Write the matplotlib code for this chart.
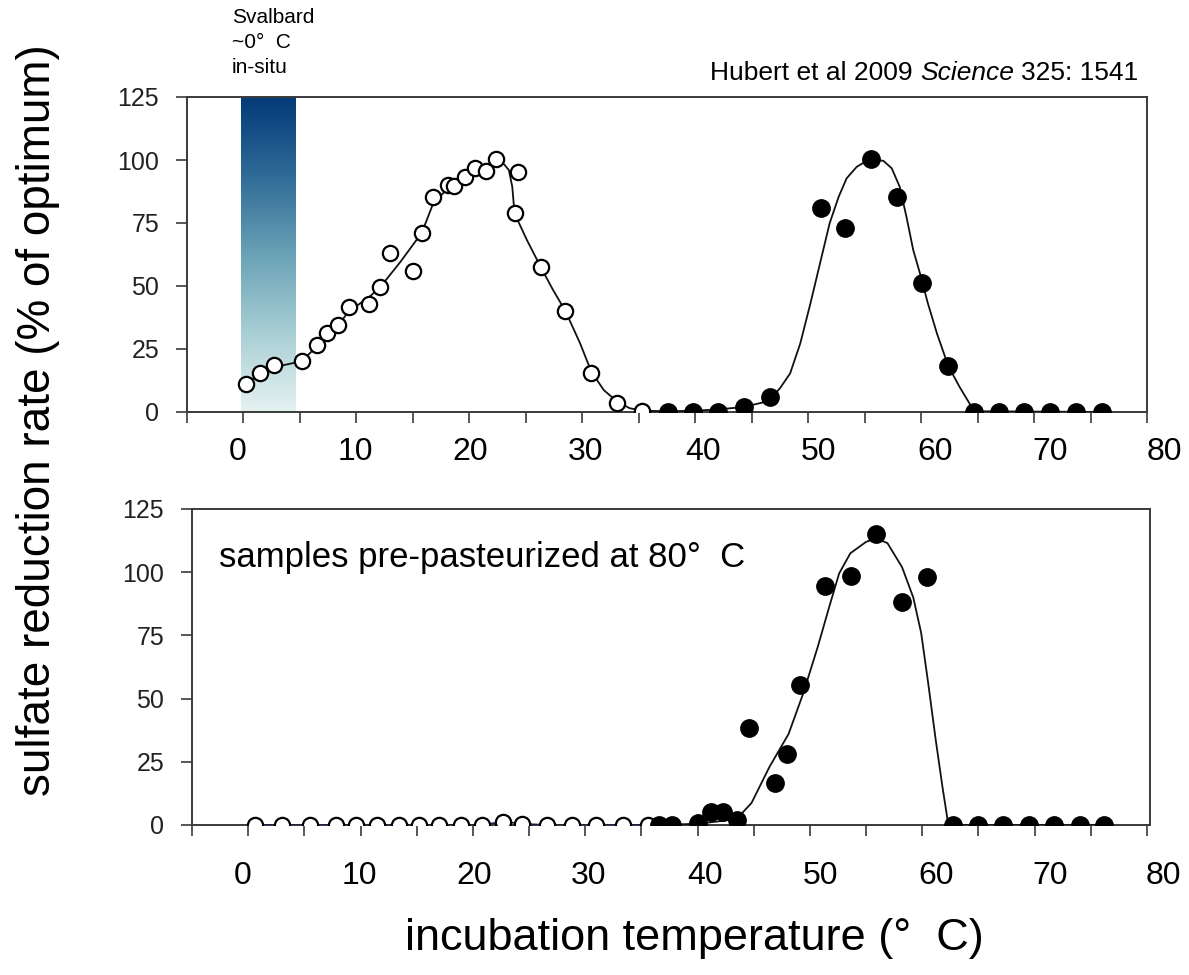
import matplotlib
matplotlib.use('Agg')
import matplotlib.pyplot as plt
import numpy as np
from matplotlib.colors import LinearSegmentedColormap

plt.rcParams['font.family'] = ['Liberation Sans', 'DejaVu Sans']

# top panel: fresh sediment
top_open_temp = [0.2, 1.5, 2.7, 5.2, 6.5, 7.4, 8.4, 9.3, 11.1, 12.1, 13.0, 15.0, 15.8,
                 16.8, 18.1, 18.6, 19.6, 20.5, 21.5, 22.4, 24.3, 24.0, 26.3, 28.5, 30.8,
                 33.1, 35.3]
top_open_rate = [11.1, 15.6, 18.7, 20.4, 26.6, 31.5, 34.5, 41.5, 42.9, 49.5, 63.0, 56.1, 71.2,
                 85.5, 90.1, 89.7, 93.4, 96.7, 95.8, 100.3, 95.1, 78.8, 57.7, 40.1, 15.6,
                 3.4, 0.5]
top_filled_temp = [37.6, 39.8, 42.0, 44.3, 46.6, 51.1, 53.3, 55.6, 57.9, 60.1, 62.4,
                   64.7, 66.9, 69.1, 71.4, 73.7, 76.0]
top_filled_rate = [0, 0, 0, 2.1, 6.1, 80.8, 72.9, 100.3, 85.4, 51.3, 18.3,
                   0, 0, 0, 0, 0, 0]

top_open_fit_temp = [0.2, 1.5, 2.7, 4.6, 5.2, 6.5, 7.4, 8.4, 9.3, 10.3, 11.1, 12.1, 13.9,
                     15.8, 16.8, 18.0, 19.8, 20.9, 22.4, 23.0, 23.5, 23.8, 24.0, 25.1,
                     26.3, 27.4, 28.5, 29.8, 30.8, 31.9, 33.1, 34.2, 35.3]
top_open_fit_rate = [11.1, 15.3, 17.8, 19.6, 20.4, 26.0, 31.0, 34.5, 39.8, 43.0, 45.5, 49.5, 59.6,
                     71.2, 82.8, 88.3, 93.4, 96.0, 98.7, 98.7, 96.0, 89.4, 78.8, 68.2,
                     57.7, 48.5, 40.1, 27.3, 16.0, 8.7, 4.1, 1.5, 0.5]
top_filled_fit_temp = [35.3, 37.6, 39.8, 42.0, 44.3, 46.0, 46.6, 47.5, 48.4, 49.3, 50.2, 51.05,
                       51.9, 52.7, 53.4, 54.3, 55.2, 55.8, 56.65, 57.4, 58.1, 58.7, 59.3,
                       59.9, 60.6, 61.4, 62.4, 63.4, 64.7, 76.0]
top_filled_fit_rate = [0.5, 0.3, 0.5, 1.0, 2.0, 3.8, 5.0, 9.4, 15.3, 27.2, 43.1, 59.0,
                       74.9, 85.4, 92.7, 97.3, 99.7, 100.0, 99.7, 96.7, 89.4, 77.5, 64.3,
                       55.0, 43.1, 31.2, 18.3, 10.0, 0.3, 0.0]

# bottom panel: pre-pasteurized sediment
bottom_open_temp = [0.6, 3.0, 5.5, 7.8, 9.6, 11.5, 13.4, 15.2, 17.0, 18.9, 20.8, 22.65,
                    24.4, 26.6, 28.8, 31.0, 33.35, 35.6]
bottom_open_rate = [0, 0, 0, 0, 0, 0, 0, 0, 0, 0, 0, 1.3,
                    0.5, 0, 0, 0, 0, 0]
bottom_filled_temp = [36.6, 37.7, 40.0, 41.2, 42.3, 43.5, 44.6, 46.85, 48.0, 49.1, 51.3,
                      53.7, 55.9, 58.2, 60.4, 62.75, 64.95, 67.2, 69.5, 71.7, 74.0, 76.2]
bottom_filled_rate = [0, 0, 0.7, 5.3, 5.3, 1.9, 38.5, 16.7, 28.1, 55.4, 94.5,
                      98.5, 115.1, 88.3, 98.2, 0, 0, 0, 0, 0, 0, 0]
bottom_fit_temp = [36.6, 40.0, 42.0, 43.5, 44.8, 46.4, 48.1, 49.4, 50.7, 51.7, 52.6, 53.6,
                   55.0, 55.9, 56.9, 58.2, 59.2, 59.9, 60.5, 61.2, 61.8, 62.3, 62.75, 76.2]
bottom_fit_rate = [0, 0.5, 1.5, 2.5, 8.7, 23, 36, 52, 70.5, 86, 99.5, 107.5,
                   112, 113.4, 111.5, 102, 90, 76, 57, 33.6, 15, 0.7, 0, 0]

svalbard_range = [-0.2, 4.6]
y_ticks = [0, 25, 50, 75, 100, 125]
x_label_text = ['0', '10', '20', '30', '40', '50', '60', '70', '80']
x_label_pos = [-0.5, 9.9, 20.1, 30.3, 40.7, 50.9, 61.2, 71.4, 81.5]

W, H = 1189, 975
fig = plt.figure(figsize=(W / 100, H / 100), dpi=100)

spine_col = '#3a3a3a'


def px_box(left, top, right, bottom):
    return [left / W, 1 - bottom / H, (right - left) / W, (bottom - top) / H]


def style_axes(ax, xlim, label_y):
    ax.set_xlim(*xlim)
    ax.set_ylim(0, 125)
    ax.set_xticks(np.arange(-5, 81, 5))
    ax.set_xticklabels([])
    ax.set_yticks(y_ticks)
    ax.set_yticklabels([str(v) for v in y_ticks], fontsize=18)
    ax.tick_params(axis='both', direction='out', length=8, width=1.2, colors=spine_col,
                   labelcolor='#222222')
    ax.tick_params(axis='y', pad=12)
    for s in ax.spines.values():
        s.set_color(spine_col)
        s.set_linewidth(1.4)
    for lab, pos in zip(x_label_text, x_label_pos):
        ax.text(pos, label_y, lab, transform=ax.get_xaxis_transform(), ha='center',
                va='center', fontsize=23, clip_on=False)


open_kw = dict(linestyle='none', marker='o', markersize=11, markerfacecolor='white',
               markeredgecolor='black', markeredgewidth=1.6, zorder=4)
filled_kw = dict(linestyle='none', marker='o', markersize=12.5, markerfacecolor='black',
                 markeredgecolor='black', zorder=4)

# ---- top panel
ax1 = fig.add_axes(px_box(187, 97, 1147, 412))
style_axes(ax1, (-5, 80), -0.127)
grad = LinearSegmentedColormap.from_list('svalbard', ['#e6f2f2', '#a8cfd4', '#6aa2b6',
                                                      '#2f6b97', '#033a78'])
ax1.imshow(np.linspace(0, 1, 256).reshape(-1, 1), cmap=grad, origin='lower', aspect='auto',
           extent=[svalbard_range[0], svalbard_range[1], 0, 125], zorder=1)
ax1.plot(top_open_fit_temp, top_open_fit_rate, color='#111111', lw=1.3, zorder=3)
ax1.plot(top_filled_fit_temp, top_filled_fit_rate, color='#111111', lw=1.3, zorder=3)
ax1.plot(top_open_temp, top_open_rate, **open_kw)
ax1.plot(top_filled_temp, top_filled_rate, **filled_kw)
ax1.set_xlim(-5, 80)
ax1.set_ylim(0, 125)

fig.text(232 / W, 1 - 23 / H, 'Svalbard', fontsize=15, va='baseline', ha='left')
fig.text(232 / W, 1 - 48 / H, '~0°  C', fontsize=15, va='baseline', ha='left')
fig.text(232 / W, 1 - 73 / H, 'in-situ', fontsize=15, va='baseline', ha='left')

t1 = fig.text(710 / W, 1 - 80 / H, 'Hubert et al 2009', fontsize=19, va='baseline', ha='left')
t2 = fig.text(0, 0, 'Science', fontsize=19, style='italic', va='baseline', ha='left')
t3 = fig.text(0, 0, '325: 1541', fontsize=19, va='baseline', ha='left')

# ---- bottom panel
ax2 = fig.add_axes(px_box(192, 509, 1150, 825))
style_axes(ax2, (-4.56, 80.27), -0.161)
ax2.plot(bottom_open_temp, bottom_open_rate, color='#1c1c48', lw=1.2, zorder=3)
ax2.plot(bottom_fit_temp, bottom_fit_rate, color='#111111', lw=1.3, zorder=3)
ax2.plot(bottom_open_temp, bottom_open_rate, **open_kw)
ax2.plot(bottom_filled_temp, bottom_filled_rate, **filled_kw)
ax2.text(219 / W, 1 - 558 / H, 'samples pre-pasteurized at 80°  C', transform=fig.transFigure,
         fontsize=25, va='center', ha='left')

fig.text(38 / W, 1 - 420 / H, 'sulfate reduction rate (% of optimum)', rotation=90,
         fontsize=33, ha='center', va='center')
fig.text(405 / W, 1 - 950 / H, 'incubation temperature (°  C)', fontsize=32.5,
         ha='left', va='baseline')

# chain the mixed-style citation pieces
fig.canvas.draw()
r = fig.canvas.get_renderer()
space = 0.278 * 19 * 100 / 72
bb1 = t1.get_window_extent(r)
t2.set_position(((bb1.x1 + space) / W, 1 - 80 / H))
bb2 = t2.get_window_extent(r)
t3.set_position(((bb2.x1 + space) / W, 1 - 80 / H))

fig.savefig('out.png', dpi=100)
